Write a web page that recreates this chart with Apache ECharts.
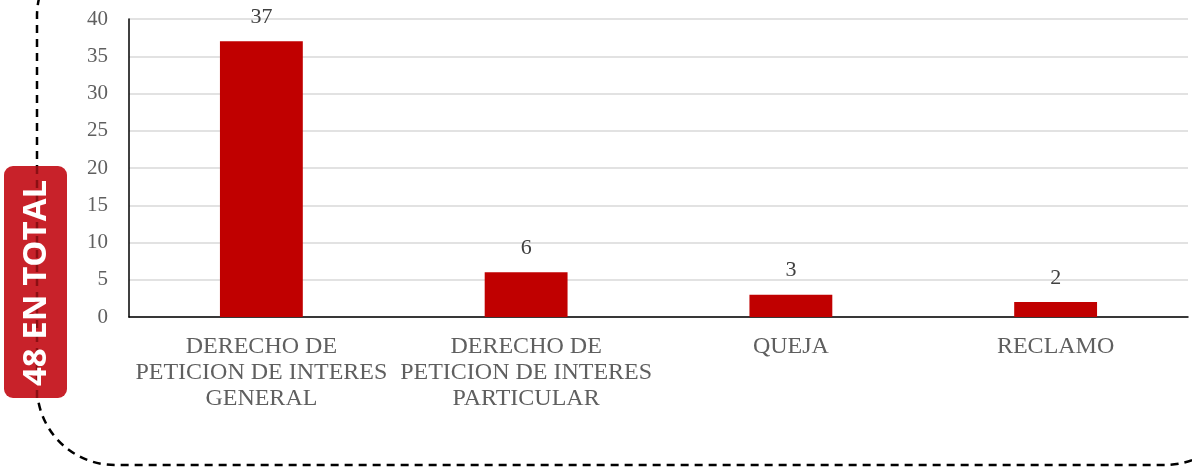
<!DOCTYPE html>
<html><head><meta charset="utf-8">
<script src="https://cdn.jsdelivr.net/npm/echarts@6/dist/echarts.min.js"></script>
<style>html,body{margin:0;padding:0;background:#fff}#c{width:1192px;height:472px}</style>
</head><body><div id="c"></div>
<script>
const categories = ["DERECHO DE\nPETICION DE INTERES\nGENERAL", "DERECHO DE\nPETICION DE INTERES\nPARTICULAR", "QUEJA", "RECLAMO"];
const values = [37, 6, 3, 2];
const totalLabel = "48 EN TOTAL";

const chart = echarts.init(document.getElementById('c'), null, {renderer: 'canvas'});
const serif = '"Liberation Serif", "DejaVu Serif", serif';
chart.setOption({
  animation: false,
  grid: {left: 129, right: 4, top: 19, bottom: 155, containLabel: false},
  xAxis: {
    type: 'category', data: categories,
    axisLine: {lineStyle: {color: '#000', width: 1.5}},
    axisTick: {show: false},
    axisLabel: {interval: 0, color: '#5f5f5f', fontFamily: serif, fontSize: 24, lineHeight: 26, margin: 17}
  },
  yAxis: {
    type: 'value', min: 0, max: 40, interval: 5,
    axisLine: {show: true, lineStyle: {color: '#000', width: 1.5}},
    axisTick: {show: false},
    splitLine: {lineStyle: {color: '#d9d9d9', width: 1.5}},
    axisLabel: {color: '#5f5f5f', fontFamily: serif, fontSize: 21, margin: 21}
  },
  series: [{
    type: 'bar', data: values, barWidth: '31.3%',
    itemStyle: {color: '#C00000'},
    label: {show: true, position: 'top', distance: 13, color: '#404040', fontFamily: serif, fontSize: 22}
  }],
  graphic: [
    {type: 'rect', z: 100, silent: true,
     shape: {x: 37, y: -62, width: 1206, height: 527, r: 78},
     style: {fill: 'none', stroke: '#000', lineWidth: 2.5, lineDash: [8, 6]}},
    {type: 'rect', z: 101, silent: true,
     shape: {x: 4, y: 166, width: 63, height: 232, r: 9},
     style: {fill: '#C8222A'}},
    {type: 'line', z: 102, silent: true,
     shape: {x1: 37, y1: 166, x2: 37, y2: 398},
     style: {stroke: 'rgba(90,0,0,0.55)', lineWidth: 2.5, lineDash: [8, 6]}},
    {type: 'text', z: 103, silent: true, x: 37, y: 283, rotation: Math.PI / 2,
     style: {text: totalLabel, fill: '#fff', font: 'bold 33px "Open Sans", sans-serif', align: 'center', verticalAlign: 'middle'}}
  ]
});
</script></body></html>
